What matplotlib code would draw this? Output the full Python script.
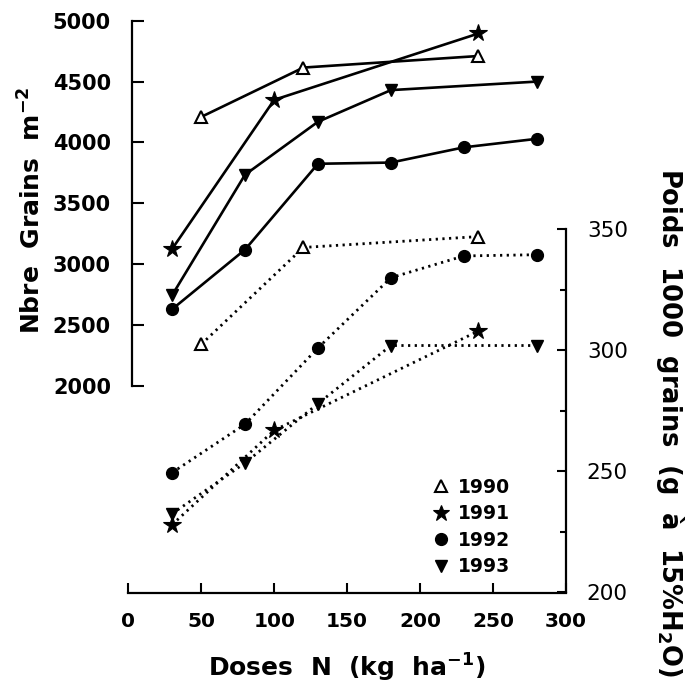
import matplotlib
matplotlib.use("Agg")
import matplotlib.pyplot as plt
from matplotlib.lines import Line2D
from matplotlib.ticker import FixedLocator

plt.rcParams['font.family'] = ['DejaVu Sans']
plt.rcParams['mathtext.fontset'] = 'dejavusans'
plt.rcParams['mathtext.default'] = 'bf'

years = ["1990", "1991", "1992", "1993"]

# Grain number per m2 (left axis, solid lines)
x_1990 = [50, 120, 240]
grains_1990 = [4210, 4615, 4710]
x_1991 = [30, 100, 240]
grains_1991 = [3125, 4350, 4895]
x_1992 = [30, 80, 130, 180, 230, 280]
grains_1992 = [2630, 3120, 3825, 3835, 3960, 4030]
x_1993 = [30, 80, 130, 180, 280]
grains_1993 = [2745, 3735, 4170, 4430, 4500]

# 1000-grain weight (right axis, dotted lines)
weight_1990 = [302.5, 342.5, 347]
weight_1991 = [228, 267, 308]
weight_1992 = [249.5, 269.5, 301, 330, 339, 339.5]
weight_1993 = [232.5, 253.5, 278, 302, 302]

x_ticks = [0, 50, 100, 150, 200, 250, 300]
left_ticks = [2000, 2500, 3000, 3500, 4000, 4500, 5000]
right_ticks = [200, 250, 300, 350]
right_minor_ticks = [225, 275, 325]

W, H = 685, 692
fig = plt.figure(figsize=(W / 100, H / 100), dpi=100)
ax_left, ax_right_px = 128.3, 566.0
y_bot_px, y_top_px = 592.5, 20.7
ax = fig.add_axes([ax_left / W, 1 - y_bot_px / H,
                   (ax_right_px - ax_left) / W, (y_bot_px - y_top_px) / H])
ax2 = ax.twinx()

# scales
lpp = 3000 / (386.0 - 20.7)
rpp = 150 / (592.5 - 229.3)
left_lim = (2000 - (y_bot_px - 386.0) * lpp, 5000)
right_lim = (200, 350 + (229.3 - y_top_px) * rpp)
ax.set_xlim(0, 300)

markers = {"1990": dict(marker='^', mfc='white', mec='black', ms=8, mew=1.5),
           "1991": dict(marker='*', mfc='black', mec='black', ms=13, mew=0.8),
           "1992": dict(marker='o', mfc='black', mec='black', ms=8.5, mew=1),
           "1993": dict(marker='v', mfc='black', mec='black', ms=8, mew=1)}

series = [("1990", x_1990, grains_1990, weight_1990),
          ("1991", x_1991, grains_1991, weight_1991),
          ("1992", x_1992, grains_1992, weight_1992),
          ("1993", x_1993, grains_1993, weight_1993)]

for yr, xs, g, w in series:
    ax.plot(xs, g, color='black', lw=1.9, ls='-', zorder=3, **markers[yr])
    ax2.plot(xs, w, color='black', lw=2.0, ls=(0, (0.8, 1.6)), zorder=3, **markers[yr])

# spines
for s in ['top', 'right']:
    ax.spines[s].set_visible(False)
for s in ['top', 'left', 'bottom']:
    ax2.spines[s].set_visible(False)
ax.spines['left'].set_bounds(2000, 5000)
ax.spines['left'].set_position(('outward', -2.5))
ax.spines['bottom'].set_bounds(0, 300)
ax2.spines['right'].set_bounds(200, 350)
for sp in [ax.spines['left'], ax.spines['bottom'], ax2.spines['right']]:
    sp.set_linewidth(1.6)

ax.set_yticks(left_ticks)
ax.set_xticks(x_ticks)
ax2.set_yticks(right_ticks)
ax2.yaxis.set_minor_locator(FixedLocator(right_minor_ticks))
ax.set_ylim(*left_lim)
ax2.set_ylim(*right_lim)
ax.set_xlim(0, 300)

ax.tick_params(axis='y', direction='in', length=8.4, width=1.5, pad=15,
               labelsize=15)
ax.tick_params(axis='x', direction='in', length=7.2, width=1.5, pad=14,
               labelsize=14.5)
ax2.tick_params(axis='y', which='major', direction='in', length=6.5, width=1.5,
                pad=15, labelsize=15.5)
ax2.tick_params(axis='y', which='minor', direction='in', length=4, width=1.5)
ax2.xaxis.set_visible(False)
for lab in ax.get_yticklabels() + ax.get_xticklabels():
    lab.set_fontweight('bold')
for lab in ax2.get_yticklabels():
    lab.set_fontweight('normal')

# axis titles
fig.text(32 / W, 1 - 210 / H, r"Nbre  Grains  m$^{-2}$", rotation=90,
         ha='center', va='center', fontsize=18, fontweight='bold')
fig.text(347 / W, 1 - 668 / H, r"Doses  N  (kg  ha$^{-1}$)",
         ha='center', va='center', fontsize=18, fontweight='bold')
fig.text(670 / W, 1 - 423 / H, r"Poids  1000  grains  (g  à  15%H$_2$O)",
         rotation=270, ha='center', va='center', fontsize=18.5, fontweight='bold')

# legend
handles = [Line2D([], [], ls='none', color='black', **markers[yr]) for yr in years]
handles[1].set_markersize(12)
leg = ax.legend(handles, years, loc='center', bbox_to_anchor=(472 / W, 1 - 527 / H),
                bbox_transform=fig.transFigure, frameon=False, handlelength=0.8,
                handletextpad=0.5, labelspacing=0.4,
                prop=dict(size=13.5, weight='bold'))

fig.savefig("out.png", dpi=100)
